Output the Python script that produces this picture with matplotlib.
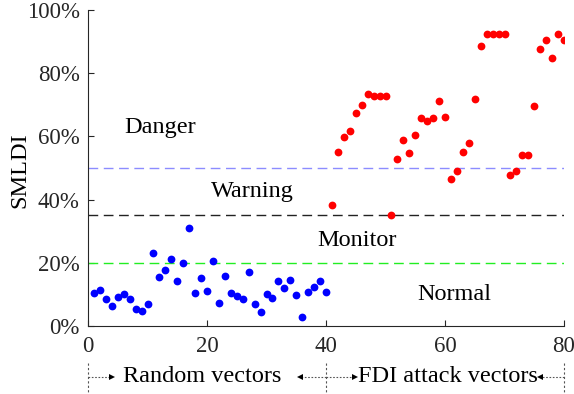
import numpy as np
import matplotlib
matplotlib.use("Agg")
import matplotlib.pyplot as plt

plt.rcParams['font.family'] = ['Liberation Serif', 'DejaVu Serif']

# SMLDI (%) for random vectors (1-40) and FDI attack vectors (41-80)
random_idx = np.arange(1, 41)
random_smldi = [10.3, 11.4, 8.5, 6.3, 9.2, 10.2, 8.5, 5.5, 4.8, 7.1,
                23.0, 15.6, 17.6, 21.1, 14.2, 19.9, 30.9, 10.5, 15.3, 11.1,
                20.5, 7.4, 15.8, 10.4, 9.5, 8.6, 17.0, 6.9, 4.3, 10.0,
                9.0, 14.2, 12.1, 14.7, 9.7, 2.9, 10.7, 12.3, 14.2, 10.9]
fdi_idx = np.arange(41, 81)
fdi_smldi = [38.4, 55.1, 59.7, 61.8, 67.4, 69.9, 73.3, 72.7, 72.7, 72.7,
             35.0, 52.8, 58.8, 54.7, 60.3, 65.8, 65.0, 65.8, 71.1, 66.0,
             46.6, 49.1, 55.2, 57.8, 71.9, 88.5, 92.5, 92.5, 92.5, 92.5,
             47.7, 49.1, 54.1, 54.0, 69.5, 87.6, 90.5, 84.9, 92.5, 90.5]

# alarm thresholds
thresholds = [20, 35, 50]
threshold_colors = ['#22ee22', '#222222', '#8c8cff']
zone_names = ['Normal', 'Monitor', 'Warning', 'Danger']
zone_pos = [(61.5, 10.1), (45.2, 27.2), (27.7, 42.7), (12.1, 62.7)]

fig = plt.figure(figsize=(5.74, 3.94), dpi=100)
ax = fig.add_axes([88/574, 68/394, 476/574, 316/394])

for t, c in zip(thresholds, threshold_colors):
    ax.plot([0, 80], [t, t], color=c, lw=1.0, dashes=(7, 4))

ax.plot(random_idx, random_smldi, 'o', color='#0000ff', ms=5.6, mew=0)
ax.plot(fdi_idx, fdi_smldi, 'o', color='#ff0000', ms=5.6, mew=0)

for name, (x, y) in zip(zone_names, zone_pos):
    ax.text(x, y, name, fontsize=17.5, ha='center', va='center')

ax.set_xlim(0, 80)
ax.set_ylim(0, 100)
ax.set_xticks([0, 20, 40, 60, 80])
ax.set_yticks([0, 20, 40, 60, 80, 100])
ax.set_yticklabels(['%d%%' % v for v in range(0, 101, 20)])
ax.tick_params(direction='in', length=4, width=0.8, colors='#262626',
               labelsize=16.5, pad=6)
ax.tick_params(axis='x', pad=7)
for s in ['top', 'right']:
    ax.spines[s].set_visible(False)
for s in ['left', 'bottom']:
    ax.spines[s].set_color('#262626')
    ax.spines[s].set_linewidth(0.8)

fig.text(20/574, 1 - 170/394, 'SMLDI', rotation=90, fontsize=17.5,
         ha='center', va='center')

# group brackets below the x axis
tr = ax.get_xaxis_transform()
row = -0.161
for xv in [0, 40, 80]:
    ax.plot([xv, xv], [-0.117, -0.25], transform=tr, clip_on=False,
            color='#555555', lw=0.8, dashes=(2, 2))
arrows = [(0, 4.0, '>'), (40, 35.7, '<'), (40, 44.9, '>'), (80, 76.0, '<')]
for x0, x1, m in arrows:
    ax.plot([x0, x1], [row, row], transform=tr, clip_on=False,
            color='#555555', lw=0.8, dashes=(1.5, 1.5))
    ax.plot([x1], [row], marker=m, color='black', ms=5, mew=0,
            transform=tr, clip_on=False)
ax.text(19.2, row, 'Random vectors', transform=tr, fontsize=17.5,
        ha='center', va='center')
ax.text(60.5, row, 'FDI attack vectors', transform=tr, fontsize=17.5,
        ha='center', va='center')

fig.savefig('out.png', dpi=100)
